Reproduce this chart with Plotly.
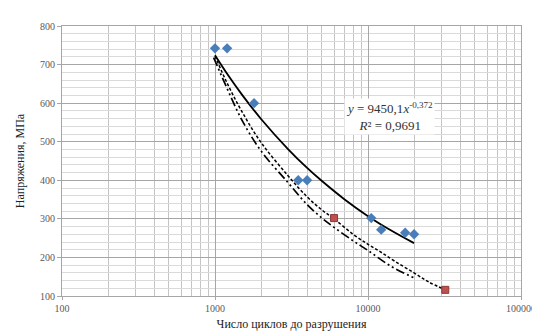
import plotly.graph_objects as go

# Experimental points (blue diamonds)
cycles_blue = [1000, 1200, 1800, 3500, 4000, 10500, 12200, 17500, 20000]
stress_blue = [742, 742, 600, 400, 400, 302, 272, 264, 260]

# Experimental points (red squares)
cycles_red = [6000, 32000]
stress_red = [302, 116]

# Power trend line y = 9450,1 x^-0,372
trend_x = [1000, 1200, 1500, 2000, 3000, 4000, 5000, 7000, 10000, 14000, 20000]
trend_y = [724, 676, 622, 559, 481, 432, 398, 351, 307, 271, 237]

# Dash-dot curve (lower)
curve_a_x = [980, 1200, 1500, 2000, 3000, 4000, 5000, 6000, 8000, 10000, 14000, 20000]
curve_a_y = [718, 638, 556, 476, 394, 337, 302, 278, 243, 218, 178, 147]

# Dotted curve (through red points)
curve_b_x = [1000, 1200, 1500, 2000, 3000, 4000, 5000, 6000, 8000, 10000, 12000, 15000, 20000, 25000, 32000]
curve_b_y = [722, 652, 578, 498, 412, 357, 323, 300, 260, 234, 215, 190, 160, 136, 116]

x_ticks = [100, 1000, 10000, 100000]
x_tick_text = ["100", "1000", "10000", "100000"]
x_minor = [m * d for d in (100, 1000, 10000) for m in range(2, 10)]

fig = go.Figure()

fig.add_trace(go.Scatter(x=curve_a_x, y=curve_a_y, mode="lines", line_shape="spline",
                         line=dict(color="black", width=1.7, dash="9px,3px,2px,3px,2px,3px"),
                         showlegend=False, hoverinfo="skip"))
fig.add_trace(go.Scatter(x=curve_b_x, y=curve_b_y, mode="lines", line_shape="spline",
                         line=dict(color="black", width=1.5, dash="3px,2px"),
                         showlegend=False, hoverinfo="skip"))
fig.add_trace(go.Scatter(x=trend_x, y=trend_y, mode="lines", line_shape="spline",
                         line=dict(color="black", width=1.8),
                         showlegend=False, hoverinfo="skip"))
fig.add_trace(go.Scatter(x=cycles_blue, y=stress_blue, mode="markers",
                         marker=dict(symbol="diamond", size=8, color="#4a7ebb"),
                         showlegend=False))
fig.add_trace(go.Scatter(x=cycles_red, y=stress_red, mode="markers",
                         marker=dict(symbol="square", size=7, color="#c0504d",
                                     line=dict(color="#8c3836", width=1)),
                         showlegend=False))

fig.add_annotation(
    xref="paper", yref="paper", x=(388 - 53) / 469, y=(293 - 107) / 280,
    xanchor="center", yanchor="middle",
    text="<i>y</i> = 9450,1<i>x</i><sup>-0,372</sup><br><i>R</i>² = 0,9691",
    showarrow=False, align="center", bgcolor="white",
    font=dict(family="Liberation Serif", size=13, color="#333333"),
)

font_ticks = dict(family="Liberation Serif", size=10, color="#595959")

fig.update_xaxes(
    type="log", range=[2, 5], tickvals=x_ticks, ticktext=x_tick_text,
    tickfont=font_ticks, showgrid=True, gridcolor="#a6a6a6", gridwidth=1,
    minor=dict(tickvals=x_minor, showgrid=True, gridcolor="#c4c4c4", gridwidth=1, ticks=""),
    showline=True, linecolor="#a6a6a6", mirror=True, ticks="outside", ticklen=3,
    tickcolor="#a6a6a6", zeroline=False,
    title=dict(text="Число циклов до разрушения", standoff=6,
               font=dict(family="Liberation Serif", size=12, color="#222222")),
)
fig.update_yaxes(
    range=[100, 800], dtick=100, tickfont=font_ticks, showgrid=True,
    gridcolor="#a6a6a6", gridwidth=1,
    minor=dict(dtick=20, showgrid=True, gridcolor="#dadada", gridwidth=1, ticks=""),
    showline=True, linecolor="#a6a6a6", mirror=True, ticks="outside", ticklen=4,
    tickcolor="#a6a6a6", zeroline=False,
    title=dict(text="Напряжения, МПа", standoff=12,
               font=dict(family="Liberation Serif", size=12, color="#222222")),
)

fig.update_layout(
    width=540, height=332, margin=dict(l=53, r=18, t=13, b=39),
    paper_bgcolor="white", plot_bgcolor="white", showlegend=False,
)

fig.write_html("out.html")
